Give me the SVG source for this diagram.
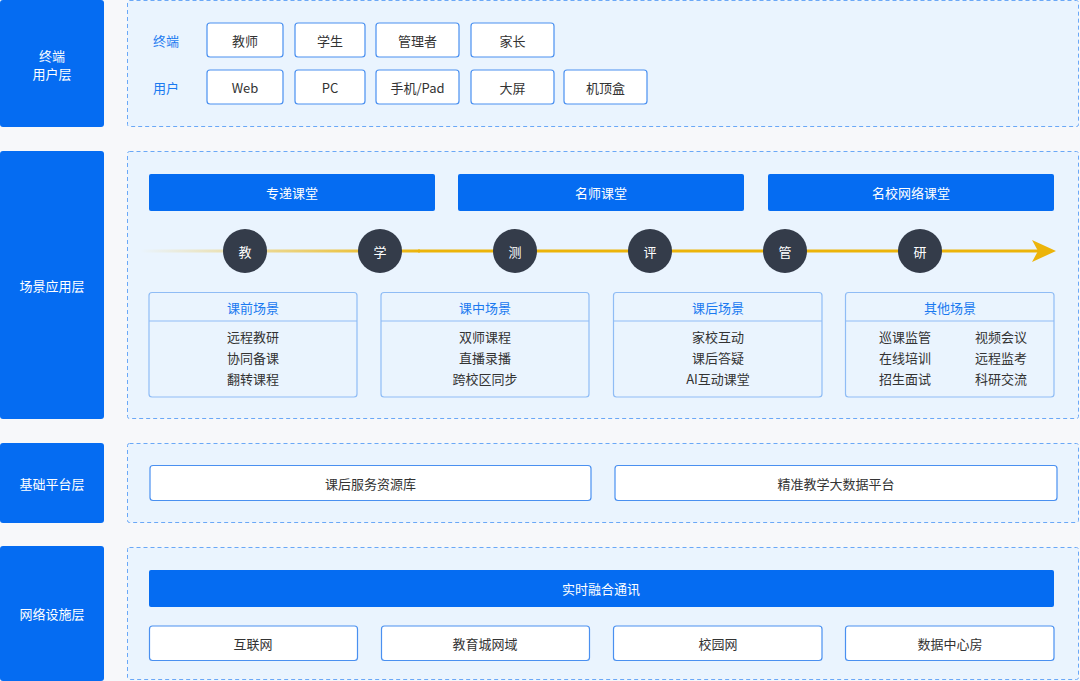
<svg xmlns="http://www.w3.org/2000/svg" width="1080" height="681" viewBox="0 0 1080 681">
<defs>
<style>
text{font-family:"Noto Sans CJK SC","Noto Sans",sans-serif;font-size:13px;text-anchor:middle;dominant-baseline:central}
.side{fill:#056cf2}
.sidet{fill:#fff}
.panel{fill:#eaf4fe;stroke:#6aa8f7;stroke-width:1;stroke-dasharray:4 3}
.wb{fill:#fff;stroke:#4a90f0;stroke-width:1.2}
.bb{fill:#056cf2}
.bt{fill:#fff}
.dt{fill:#333}
.lt{fill:#1a7af0}
.card{fill:#eaf4fe;stroke:#8fbcf5;stroke-width:1.2}
.circ{fill:#343c4a}
</style>
<linearGradient id="gl" x1="140" y1="0" x2="420" y2="0" gradientUnits="userSpaceOnUse">
<stop offset="0" stop-color="#ecb40a" stop-opacity="0"/>
<stop offset="1" stop-color="#ecb40a" stop-opacity="1"/>
</linearGradient>
</defs>
<rect width="1080" height="681" fill="#f7f8fa"/>

<g id="layer-terminal">
<rect class="side" x="0" y="0" width="104" height="127" rx="3"/>
<text class="sidet" x="52" y="55">终端</text>
<text class="sidet" x="52" y="73">用户层</text>
<rect class="panel" x="127.5" y="0.5" width="951" height="126" rx="2"/>
<text class="lt" x="166" y="40">终端</text>
<text class="lt" x="166" y="87">用户</text>
</g>
<g id="n-teacher"><rect class="wb" x="207" y="23" width="76" height="34" rx="3"/><text class="dt" x="245" y="40">教师</text></g>
<g id="n-student"><rect class="wb" x="295" y="23" width="70" height="34" rx="3"/><text class="dt" x="330" y="40">学生</text></g>
<g id="n-admin"><rect class="wb" x="376" y="23" width="83" height="34" rx="3"/><text class="dt" x="417.5" y="40">管理者</text></g>
<g id="n-parent"><rect class="wb" x="471" y="23" width="83" height="34" rx="3"/><text class="dt" x="512.5" y="40">家长</text></g>
<g id="n-web"><rect class="wb" x="207" y="70" width="76" height="34" rx="3"/><text class="dt" x="245" y="87">Web</text></g>
<g id="n-pc"><rect class="wb" x="295" y="70" width="70" height="34" rx="3"/><text class="dt" x="330" y="87">PC</text></g>
<g id="n-pad"><rect class="wb" x="376" y="70" width="83" height="34" rx="3"/><text class="dt" x="417.5" y="87">手机/Pad</text></g>
<g id="n-screen"><rect class="wb" x="471" y="70" width="83" height="34" rx="3"/><text class="dt" x="512.5" y="87">大屏</text></g>
<g id="n-stb"><rect class="wb" x="564" y="70" width="83" height="34" rx="3"/><text class="dt" x="605.5" y="87">机顶盒</text></g>

<g id="layer-scene">
<rect class="side" x="0" y="151" width="104" height="268" rx="3"/>
<text class="sidet" x="52" y="285">场景应用层</text>
<rect class="panel" x="127.5" y="151.5" width="951" height="267" rx="2"/>
</g>
<g id="n-class1"><rect class="bb" x="149" y="174" width="286" height="37" rx="2"/><text class="bt" x="292" y="192.5">专递课堂</text></g>
<g id="n-class2"><rect class="bb" x="458" y="174" width="286" height="37" rx="2"/><text class="bt" x="601" y="192.5">名师课堂</text></g>
<g id="n-class3"><rect class="bb" x="768" y="174" width="286" height="37" rx="2"/><text class="bt" x="911" y="192.5">名校网络课堂</text></g>

<g id="connectors">
<line x1="140" y1="251" x2="420" y2="251" stroke="url(#gl)" stroke-width="3"/>
<line x1="418" y1="251" x2="1040" y2="251" stroke="#ecb40a" stroke-width="3"/>
<polygon points="1032,240 1056,251 1032,262 1038,251" fill="#ecb40a"/>
</g>

<g id="n-jiao"><circle class="circ" cx="245" cy="251" r="22"/><text class="bt" x="245" y="251">教</text></g>
<g id="n-xue"><circle class="circ" cx="380" cy="251" r="22"/><text class="bt" x="380" y="251">学</text></g>
<g id="n-ce"><circle class="circ" cx="515" cy="251" r="22"/><text class="bt" x="515" y="251">测</text></g>
<g id="n-ping"><circle class="circ" cx="650" cy="251" r="22"/><text class="bt" x="650" y="251">评</text></g>
<g id="n-guan"><circle class="circ" cx="785" cy="251" r="22"/><text class="bt" x="785" y="251">管</text></g>
<g id="n-yan"><circle class="circ" cx="920" cy="251" r="22"/><text class="bt" x="920" y="251">研</text></g>

<g id="n-pre">
<rect class="card" x="149" y="292.5" width="208" height="104.5" rx="3"/>
<line x1="149" y1="321" x2="357" y2="321" stroke="#8fbcf5" stroke-width="1.2"/>
<text class="lt" x="253" y="307">课前场景</text>
<text class="dt" x="253" y="336">远程教研</text>
<text class="dt" x="253" y="357">协同备课</text>
<text class="dt" x="253" y="378">翻转课程</text>
</g>
<g id="n-mid">
<rect class="card" x="381" y="292.5" width="208" height="104.5" rx="3"/>
<line x1="381" y1="321" x2="589" y2="321" stroke="#8fbcf5" stroke-width="1.2"/>
<text class="lt" x="485" y="307">课中场景</text>
<text class="dt" x="485" y="336">双师课程</text>
<text class="dt" x="485" y="357">直播录播</text>
<text class="dt" x="485" y="378">跨校区同步</text>
</g>
<g id="n-post">
<rect class="card" x="613.5" y="292.5" width="208.5" height="104.5" rx="3"/>
<line x1="613.5" y1="321" x2="822" y2="321" stroke="#8fbcf5" stroke-width="1.2"/>
<text class="lt" x="718" y="307">课后场景</text>
<text class="dt" x="718" y="336">家校互动</text>
<text class="dt" x="718" y="357">课后答疑</text>
<text class="dt" x="718" y="378">AI互动课堂</text>
</g>
<g id="n-other">
<rect class="card" x="845.5" y="292.5" width="208.5" height="104.5" rx="3"/>
<line x1="845.5" y1="321" x2="1054" y2="321" stroke="#8fbcf5" stroke-width="1.2"/>
<text class="lt" x="950" y="307">其他场景</text>
<text class="dt" x="905" y="336">巡课监管</text>
<text class="dt" x="905" y="357">在线培训</text>
<text class="dt" x="905" y="378">招生面试</text>
<text class="dt" x="1001" y="336">视频会议</text>
<text class="dt" x="1001" y="357">远程监考</text>
<text class="dt" x="1001" y="378">科研交流</text>
</g>

<g id="layer-platform">
<rect class="side" x="0" y="443" width="104" height="80" rx="3"/>
<text class="sidet" x="52" y="483">基础平台层</text>
<rect class="panel" x="127.5" y="443.5" width="951" height="79" rx="2"/>
</g>

<g id="n-res"><rect class="wb" x="150" y="465.5" width="441" height="35" rx="3"/><text class="dt" x="370.5" y="483">课后服务资源库</text></g>
<g id="n-bigdata"><rect class="wb" x="615" y="465.5" width="442" height="35" rx="3"/><text class="dt" x="836" y="483">精准教学大数据平台</text></g>

<g id="layer-network">
<rect class="side" x="0" y="546" width="104" height="135" rx="3"/>
<text class="sidet" x="52" y="613">网络设施层</text>
<rect class="panel" x="127.5" y="547.5" width="951" height="132" rx="2"/>
</g>
<g id="n-rtc"><rect class="bb" x="149" y="570" width="905" height="37" rx="2"/><text class="bt" x="601" y="588">实时融合通讯</text></g>
<g id="n-internet"><rect class="wb" x="149.5" y="626" width="208" height="34.5" rx="3"/><text class="dt" x="253" y="643">互联网</text></g>
<g id="n-edunet"><rect class="wb" x="381.5" y="626" width="208" height="34.5" rx="3"/><text class="dt" x="485" y="643">教育城网域</text></g>
<g id="n-campus"><rect class="wb" x="613.5" y="626" width="208.5" height="34.5" rx="3"/><text class="dt" x="718" y="643">校园网</text></g>
<g id="n-dc"><rect class="wb" x="845.5" y="626" width="208.5" height="34.5" rx="3"/><text class="dt" x="950" y="643">数据中心房</text></g>
</svg>
